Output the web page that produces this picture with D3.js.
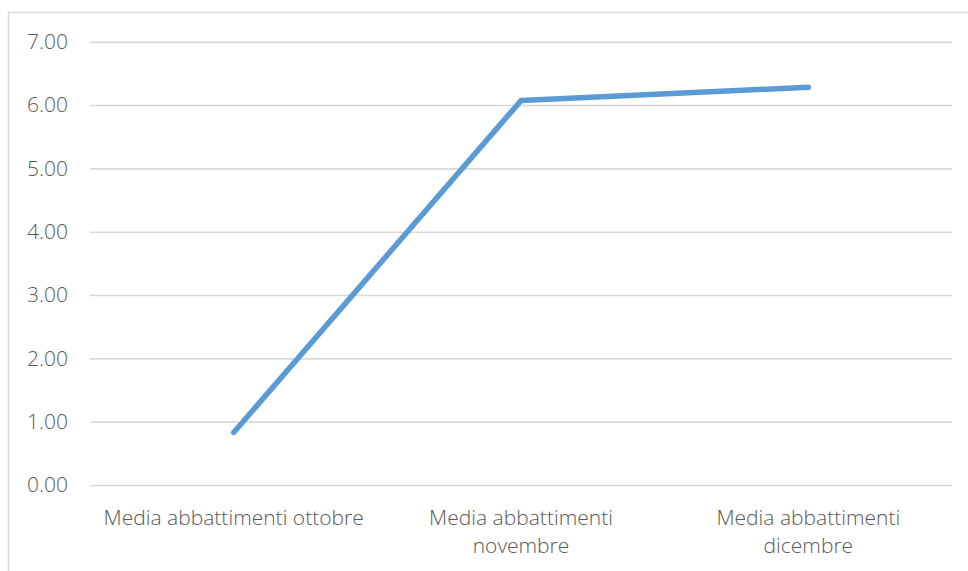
<!DOCTYPE html>
<html><head><meta charset="utf-8">
<script src="https://cdn.jsdelivr.net/npm/d3@7"></script>
<style>body{margin:0;background:#fff;} svg{display:block;} text{font-family:"Open Sans",sans-serif;}</style>
</head><body>
<svg id="chart" width="968" height="571"></svg>
<script>
const categories = ["Media abbattimenti ottobre", "Media abbattimenti novembre", "Media abbattimenti dicembre"];
const values = [0.83, 6.07, 6.28];
const yTicks = [0, 1, 2, 3, 4, 5, 6, 7];

(function () {
const svg = d3.select("#chart");
const mLeft = 90, mRight = 952, mTop = 41.7, mBottom = 485;
const fs = "21px";

svg.append("rect").attr("x", 8.5).attr("y", 12.5).attr("width", 1000).attr("height", 600)
  .attr("fill", "#fff").attr("stroke", "#d9d9d9").attr("stroke-width", 1.5);

const x = d3.scaleBand().domain(categories).range([mLeft, mRight]);
const y = d3.scaleLinear().domain([0, 7]).range([mBottom, mTop]);

const yAxis = d3.axisLeft(y).tickValues(yTicks).tickFormat(d3.format(".2f")).tickSize(-(mRight - mLeft)).tickPadding(22);
const gy = svg.append("g").attr("transform", `translate(${mLeft},0)`).call(yAxis);
gy.select(".domain").remove();
gy.selectAll(".tick line").attr("stroke", "#d9d9d9").attr("stroke-width", 1.6);
gy.selectAll(".tick text").attr("fill", "#595959").style("font-size", fs).style("font-weight", 300);

const xAxis = d3.axisBottom(x).tickSize(0).tickPadding(0);
const gx = svg.append("g").attr("transform", `translate(0,${mBottom})`).call(xAxis);
gx.select(".domain").remove();
gx.selectAll(".tick text").attr("fill", "#595959").style("font-size", fs).style("font-weight", 300)
  .attr("dy", null)
  .each(function(d) {
    const t = d3.select(this);
    const words = d.split(" ");
    t.text(null);
    let line = [];
    let lineNo = 0;
    let tspan = t.append("tspan").attr("x", 0).attr("y", 40);
    for (const w of words) {
      line.push(w);
      tspan.text(line.join(" "));
      if (tspan.node().getComputedTextLength() > 278 && line.length > 1) {
        line.pop();
        tspan.text(line.join(" "));
        line = [w];
        lineNo++;
        tspan = t.append("tspan").attr("x", 0).attr("y", 40 + lineNo * 28).text(w);
      }
    }
  });

const lineGen = d3.line().x((d, i) => x(categories[i]) + x.bandwidth() / 2).y(d => y(d));
svg.append("path").datum(values).attr("d", lineGen).attr("fill", "none")
  .attr("stroke", "#5B9BD5").attr("stroke-width", 5.5).attr("stroke-linecap", "round").attr("stroke-linejoin", "round");
})();
</script>
</body></html>
